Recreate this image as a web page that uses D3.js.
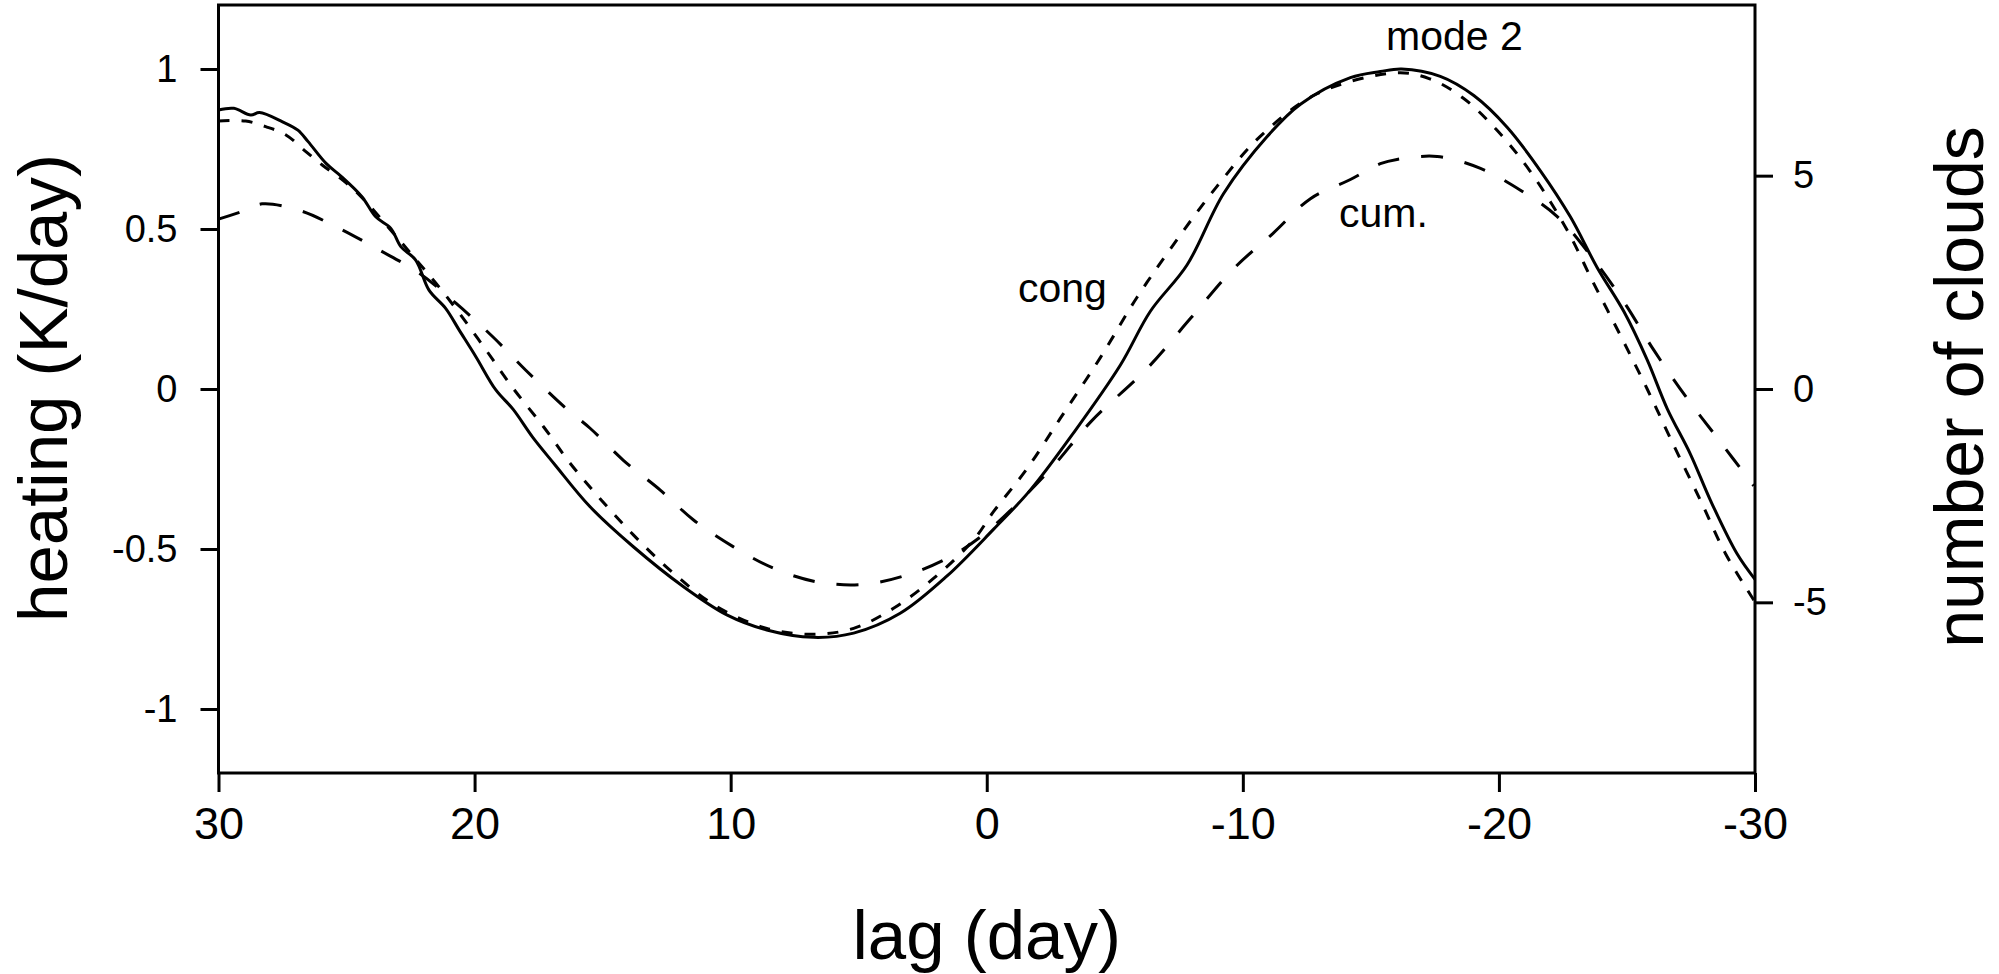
<!DOCTYPE html>
<html>
<head>
<meta charset="utf-8">
<script src="https://cdn.jsdelivr.net/npm/d3@7"></script>
<style>
  body { margin: 0; background: #fff; }
  text { font-family: "Liberation Sans", Arial, Helvetica, sans-serif; fill: #000; }
</style>
</head>
<body>
<svg id="chart"></svg>
<script>
const width = 1999;
const height = 974;
const plotLeft = 218.5, plotRight = 1755, plotTop = 5, plotBottom = 773;

// mode 2 heating (K/day)
const mode2Lag = [30, 29.4, 28.74, 28.4, 27.5, 26.9, 26.5, 25.8, 25.2, 24.4, 23.86, 23.27, 22.88, 22.3,
  21.78, 21.13, 20.6, 19.95, 19.17, 18.5, 17.72, 16.88, 15.49, 13.8, 11.84, 10.15, 8.59, 6.77, 5.2,
  3.38, 1.56, -0.27, -1.7, -3.39, -5.22, -6.39, -7.82, -9.25, -10.95, -12.25, -14.2, -15.37, -16.2,
  -17.71, -19.02, -20.32, -21.62, -22.79, -23.84, -24.88, -25.79, -26.57, -27.48, -28.26, -29.3, -30];
const mode2 = [0.872, 0.877, 0.856, 0.864, 0.835, 0.809, 0.773, 0.705, 0.664, 0.601, 0.538, 0.502, 0.445, 0.403,
  0.309, 0.252, 0.184, 0.101, -0.003, -0.063, -0.152, -0.235, -0.368, -0.493, -0.618, -0.706, -0.753, -0.776, -0.763,
  -0.701, -0.585, -0.438, -0.316, -0.137, 0.075, 0.243, 0.3875, 0.611, 0.789, 0.89, 0.973, 0.992, 1.0,
  0.977, 0.917, 0.818, 0.682, 0.538, 0.379, 0.242, 0.091, -0.061, -0.204, -0.348, -0.515, -0.595];

// congestus clouds (number)
const congLag = [30, 28.94, 28.16, 27.38, 26.6, 25.95, 25.16, 24.5, 22.88, 22.17, 21.4, 20.6, 19.56, 18.5,
  17.3, 16.27, 15.1, 13.8, 12.23, 10.54, 8.59, 6.77, 5.2, 3.64, 2.08, 0.52, -0.27, -1.57, -2.87, -4.43,
  -5.87, -7.43, -8.99, -10.68, -12.9, -16.02, -17.3, -18.6, -19.9, -21.2, -22.64, -23.68, -24.75,
  -25.79, -26.77, -27.87, -28.85, -30];
const cong = [6.28, 6.28, 6.15, 5.96, 5.57, 5.25, 4.9, 4.55, 3.45, 2.95, 2.4, 1.78, 0.92, 0.02,
  -0.89, -1.74, -2.57, -3.42, -4.32, -5.1, -5.61, -5.75, -5.61, -5.14, -4.44, -3.54, -2.87, -1.87, -0.69, 0.73,
  2.15, 3.5, 4.75, 5.92, 6.92, 7.41, 7.27, 6.82, 6.08, 5.12, 3.75, 2.5, 1.25,
  0.0, -1.25, -2.61, -3.86, -4.99];

// cumulus clouds (number)
const cumLag = [30, 28.94, 28.3, 26.86, 25.3, 23.73, 22.17, 20.73, 19.3, 18.0, 16.44, 15.49, 14.19, 12.75,
  11.45, 9.89, 8.33, 6.63, 4.81, 3.12, 1.43, 0.0, -2.5, -4.06, -6.26, -7.95, -9.64, -11.2, -12.64, -14.2,
  -15.37, -16.02, -17.59, -19.28, -20.84, -22.28, -23.58, -24.88, -26.05, -27.36, -28.52, -29.95];
const cum = [3.98, 4.19, 4.34, 4.19, 3.77, 3.26, 2.72, 2.01, 1.23, 0.44, -0.45, -0.92, -1.67, -2.37,
  -3.07, -3.7, -4.2, -4.52, -4.58, -4.36, -3.93, -3.35, -1.87, -0.77, 0.48, 1.65, 2.82, 3.66, 4.46, 4.91,
  5.28, 5.38, 5.45, 5.17, 4.66, 4.04, 3.13, 2.04, 0.91, -0.23, -1.14, -2.27];

const xTicks = [30, 20, 10, 0, -10, -20, -30];
const yTicks = [-1, -0.5, 0, 0.5, 1];
const y2Ticks = [-5, 0, 5];

const svg = d3.select("#chart").attr("width", width).attr("height", height);

const xScale = d3.scaleLinear().domain([30, -30]).range([plotLeft, plotRight]);
const yScale = d3.scaleLinear().domain([-1.2, 1.2]).range([plotBottom, plotTop]);
const y2Scale = d3.scaleLinear().domain([-9, 9]).range([plotBottom, plotTop]);

svg.append("defs").append("clipPath").attr("id", "plot")
  .append("rect")
  .attr("x", plotLeft).attr("y", plotTop)
  .attr("width", plotRight - plotLeft).attr("height", plotBottom - plotTop);

const styleAxis = (g, size) => {
  g.select(".domain").remove();
  g.selectAll(".tick line").attr("stroke", "#000").attr("stroke-width", 3);
  g.selectAll(".tick text").style("font-size", size + "px").attr("fill", "#000");
};

// plain hyphen for negatives, like the original figure
const plain = (d) => String(d);

svg.append("g")
  .attr("transform", "translate(0," + plotBottom + ")")
  .call(d3.axisBottom(xScale).tickValues(xTicks).tickSize(19).tickPadding(15).tickFormat(plain))
  .call((g) => styleAxis(g, 45));

svg.append("g")
  .attr("transform", "translate(" + plotLeft + ",0)")
  .call(d3.axisLeft(yScale).tickValues(yTicks).tickSize(18).tickPadding(23).tickFormat(plain))
  .call((g) => styleAxis(g, 38));

svg.append("g")
  .attr("transform", "translate(" + plotRight + ",0)")
  .call(d3.axisRight(y2Scale).tickValues(y2Ticks).tickSize(18).tickPadding(20).tickFormat(plain))
  .call((g) => styleAxis(g, 38));

const lines = svg.append("g").attr("clip-path", "url(#plot)");

const mode2Line = d3.line()
  .x((d, i) => xScale(mode2Lag[i]))
  .y((d) => yScale(d))
  .curve(d3.curveCatmullRom);
const congLine = d3.line()
  .x((d, i) => xScale(congLag[i]))
  .y((d) => y2Scale(d))
  .curve(d3.curveCatmullRom);
const cumLine = d3.line()
  .x((d, i) => xScale(cumLag[i]))
  .y((d) => y2Scale(d))
  .curve(d3.curveCatmullRom);

lines.append("path")
  .attr("d", cumLine(cum))
  .attr("fill", "none").attr("stroke", "#000").attr("stroke-width", 3)
  .attr("stroke-dasharray", "22,22");
lines.append("path")
  .attr("d", congLine(cong))
  .attr("fill", "none").attr("stroke", "#000").attr("stroke-width", 3)
  .attr("stroke-dasharray", "11,12");
lines.append("path")
  .attr("d", mode2Line(mode2))
  .attr("fill", "none").attr("stroke", "#000").attr("stroke-width", 3)
  .attr("stroke-linejoin", "round");

svg.append("rect")
  .attr("x", plotLeft).attr("y", plotTop)
  .attr("width", plotRight - plotLeft).attr("height", plotBottom - plotTop)
  .attr("fill", "none").attr("stroke", "#000").attr("stroke-width", 3);

svg.append("text").attr("x", 1386).attr("y", 50).style("font-size", "41px").text("mode 2");
svg.append("text").attr("x", 1339).attr("y", 227).style("font-size", "41px").text("cum.");
svg.append("text").attr("x", 1018).attr("y", 302).style("font-size", "41px").text("cong");

svg.append("text")
  .attr("x", (plotLeft + plotRight) / 2).attr("y", 959)
  .style("text-anchor", "middle").style("font-size", "69px")
  .text("lag (day)");

svg.append("text")
  .attr("transform", "translate(67,388) rotate(-90)")
  .style("text-anchor", "middle").style("font-size", "69px")
  .text("heating (K/day)");

svg.append("text")
  .attr("transform", "translate(1983,387) rotate(-90)")
  .style("text-anchor", "middle").style("font-size", "68px")
  .text("number of clouds");
</script>
</body>
</html>
